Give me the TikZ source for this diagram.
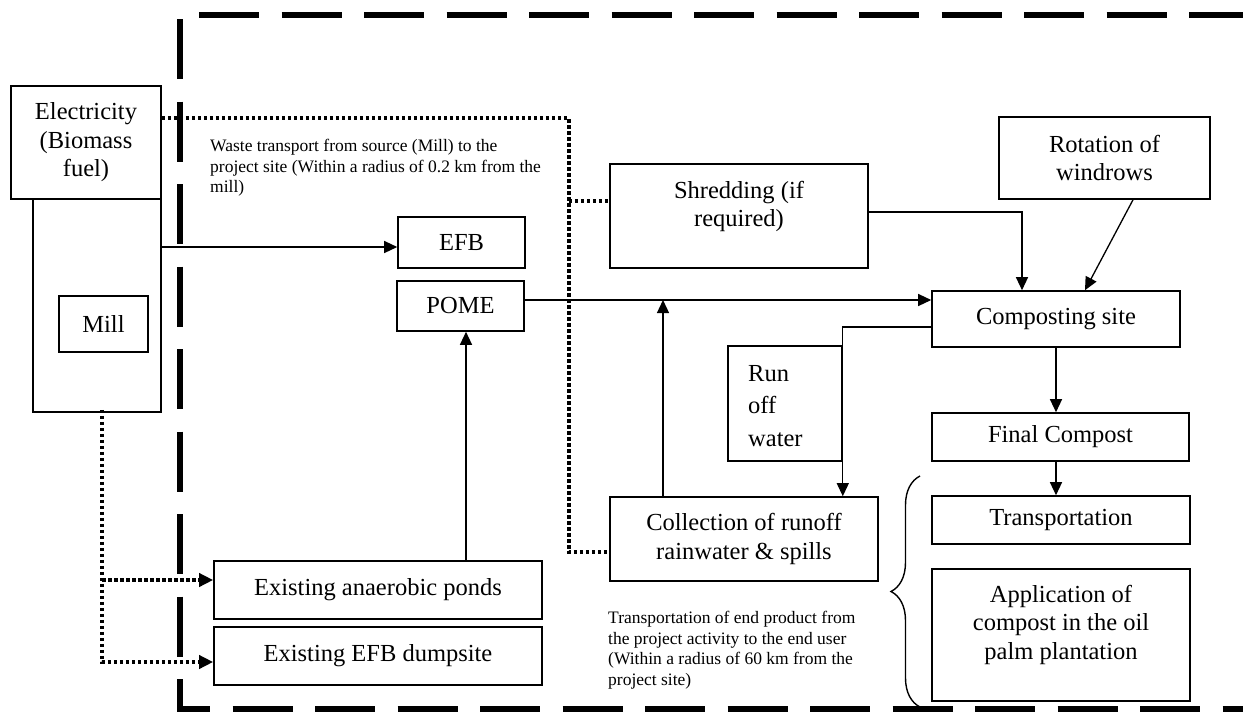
\documentclass[tikz,border=0pt]{standalone}
\usepackage{fontspec}
\setmainfont{Liberation Serif}
\usetikzlibrary{arrows.meta,calc,decorations.pathreplacing}
\newcommand\fbig{\fontsize{24.5}{28.5}\selectfont}
\newcommand\fsmall{\fontsize{17.5}{20.5}\selectfont}
\begin{document}
\begin{tikzpicture}[x=1pt,y=-1pt,
  box/.style={draw, line width=1.6pt, inner sep=0pt, align=center, font=\fbig},
  txt/.style={inner sep=0pt, font=\fbig},
  note/.style={inner sep=0pt, font=\fsmall, align=left, anchor=north west},
  arr/.style={line width=1.3pt, -{Triangle[length=13pt,width=12pt]}},
  dots/.style={line width=3.5pt, dash pattern=on 3.5pt off 2.5pt},
  darr/.style={dots, -{Triangle[length=14pt,width=13pt]}},
  bound/.style={line width=6pt, dash pattern=on 60pt off 22.5pt, line join=miter}]
\fill[white] (0,0) rectangle (1243,713);
\useasboundingbox (0,0) rectangle (1243,713);

% project boundary
\draw[bound, dash phase=78.5pt] (180,15) -- (180,709) -- (1265,709);
\draw[bound, dash phase=63.5pt] (180,15) -- (1265,15);

% boxes
\node[box, minimum width=150pt, minimum height=113pt] (elec) at (86,142.5) {Electricity\\(Biomass\\fuel)};
\node[box, minimum width=128pt, minimum height=213pt] (millo) at (97,305.5) {};
\node[box, minimum width=89pt, minimum height=56pt] (mill) at (103.5,324) {Mill};
\node[box, minimum width=127pt, minimum height=51pt] (efb) at (461.5,242.5) {EFB};
\node[box, minimum width=127pt, minimum height=50pt] (pome) at (460.5,306) {POME};
\node[box, minimum width=258pt, minimum height=104pt] (shred) at (739,216) {};
\node[txt, anchor=north, align=center] (shredt) at (739,181) {Shredding (if\\required)};
\node[box, minimum width=211pt, minimum height=82pt] (rot) at (1104.5,158) {Rotation of\\windrows};
\node[box, minimum width=248pt, minimum height=56pt] (comp) at (1056,319) {Composting site};
\node[box, minimum width=114pt, minimum height=115pt] (runoff) at (785,403.5) {};
\node[txt, anchor=north west, align=left, font=\fontsize{24.5}{32.5}\selectfont] (runofft) at (748,365) {Run\\off\\water};
\node[box, minimum width=268pt, minimum height=84pt] (coll) at (744,539) {Collection of runoff\\rainwater \& spills};
\node[box, minimum width=257pt, minimum height=48pt] (final) at (1060.5,437) {Final Compost};
\node[box, minimum width=258pt, minimum height=48pt] (transp) at (1061,520) {Transportation};
\node[box, minimum width=258pt, minimum height=132pt] (appl) at (1061,635) {};
\node[txt, anchor=north, align=center] (applt) at (1061,585) {Application of\\compost in the oil\\palm plantation};
\node[box, minimum width=328pt, minimum height=58pt] (ponds) at (378,590) {Existing anaerobic ponds};
\node[box, minimum width=328pt, minimum height=58pt] (dump) at (378,656) {Existing EFB dumpsite};

% notes
\node[note] (wastenote) at (210,139) {Waste transport from source (Mill) to the\\project site (Within a radius of 0.2 km from the\\mill)};
\node[note] (endnote) at (608,611) {Transportation of end product from\\the project activity to the end user\\(Within a radius of 60 km from the\\project site)};

% brace
\draw[line width=1.4pt, decorate, decoration={brace, amplitude=29pt}] (920,707) -- (920,476);

% solid connectors
\coordinate (e1) at ($(efb.west)+(0,4.5)$);
\draw[arr] (e1 -| millo.east) -- (e1);
\coordinate (p1) at ($(pome.east)+(0,-6)$);
\draw[arr] (p1) -- (p1 -| comp.west);
\coordinate (c1) at ($(coll.north)+(-81,0)$);
\draw[arr] (c1) -- (c1 |- p1);
\coordinate (d1) at ($(pome.south)+(5.5,0)$);
\draw[arr] (d1 |- ponds.north) -- (d1);
\coordinate (s1) at ($(shred.east)+(0,-4)$);
\coordinate (s2) at ($(comp.north)+(-34,0)$);
\draw[arr] (s1) -| (s2);
\draw[arr] ($(rot.south)+(28.5,0)$) -- ($(comp.north)+(29,0)$);
\draw[arr] (comp.south) -- (comp.south |- final.north);
\draw[arr] (comp.south |- final.south) -- (comp.south |- transp.north);
\coordinate (r1) at ($(comp.west)+(0,8)$);
\draw[arr, line width=1.1pt] (r1) -| (runoff.east |- coll.north);

% dotted connectors
\coordinate (t1) at ($(elec.east)+(0,-24.5)$);
\coordinate (t2) at ($(t1)+(407,0)$);
\coordinate (tc) at ($(coll.west)+(0,13)$);
\coordinate (ts) at ($(shred.west)+(0,-15)$);
\draw[dots] (t1) -- (t2) -- (t2 |- tc) -- (tc);
\draw[dots] (t2 |- ts) -- (ts);
\coordinate (m1) at ($(millo.south)+(5,-3)$);
\coordinate (mp) at ($(ponds.west)+(0,-10)$);
\coordinate (md) at ($(dump.west)+(0,6)$);
\draw[darr] (m1) -- (m1 |- md) -- (md);
\draw[darr] (m1 |- mp) -- (mp);
\end{tikzpicture}
\end{document}
